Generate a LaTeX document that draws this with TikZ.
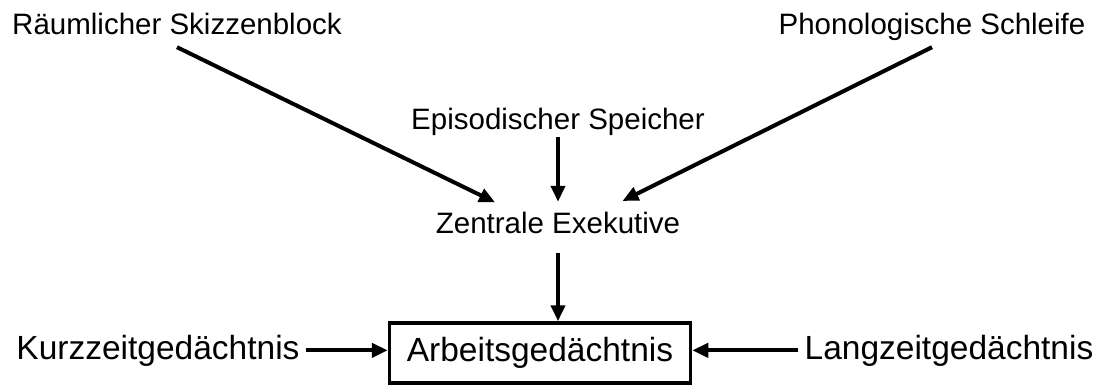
\documentclass[tikz,border=0pt]{standalone}
\usepackage{fontspec}
\setmainfont{Liberation Sans}
\usetikzlibrary{arrows.meta}

\begin{document}
\begin{tikzpicture}[x=1pt,y=-1pt]
\tikzstyle{komponente}=[inner sep=2pt, text height=22pt, text depth=10pt, font=\fontsize{29.5}{30}\selectfont]
\tikzstyle{speicher}=[inner xsep=6pt, font=\fontsize{33.5}{34}\selectfont]
\tikzstyle{connect}=[-{Triangle[length=16pt,width=14pt]}, line width=4pt]
\tikzstyle{box}=[rectangle, draw=black!100, line width=3.5pt, minimum width=301pt, minimum height=60pt]

\useasboundingbox (0,0) rectangle (1111,385);

\node[komponente, anchor=base] at (177,35) (skizze) {Räumlicher Skizzenblock};
\node[komponente, anchor=base] at (932,35) (schleife) {Phonologische Schleife};
\node[komponente, anchor=base, text depth=5pt] at (558,130) (episod) {Episodischer Speicher};
\node[komponente, anchor=base, text depth=11pt, inner ysep=9pt] at (558,233) (zentral) {Zentrale Exekutive};
\node[box, speicher] at (540,353) (arbeit) {Arbeitsgedächtnis};
\node[speicher, anchor=base] at (158,359) (kurz) {Kurzzeitgedächtnis};
\node[speicher, anchor=base] at (949,359) (lang) {Langzeitgedächtnis};

\path (skizze.south) edge [connect, shorten >=70pt] (zentral.base);
\path (schleife.south) edge [connect, shorten >=72pt] (zentral.base);
\path (episod.south) edge [connect] (episod.south |- zentral.north);
\path (zentral.south) edge [connect] (zentral.south |- arbeit.north);
\path (kurz.east) edge [connect] (kurz.east -| arbeit.west);
\path (lang.west) edge [connect] (lang.west -| arbeit.east);
\end{tikzpicture}
\end{document}
